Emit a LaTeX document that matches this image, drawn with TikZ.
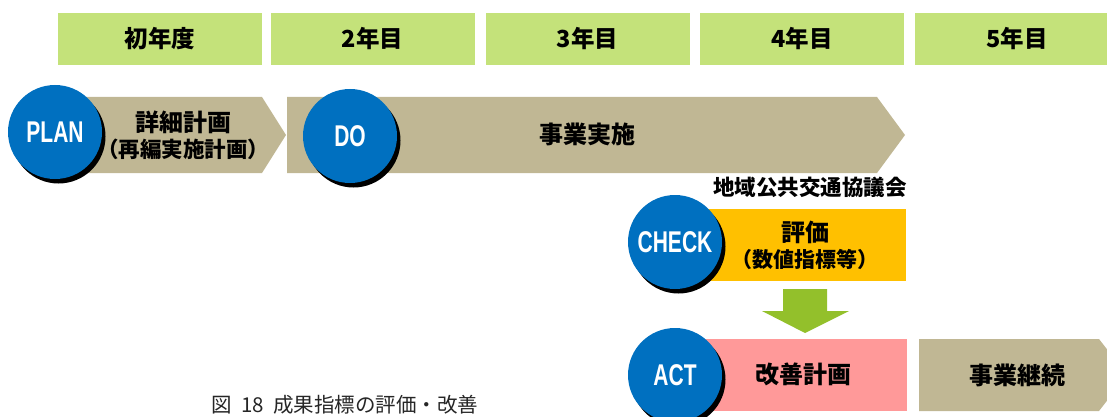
\documentclass[tikz,border=0pt]{standalone}
\usepackage{fontspec}
\setmainfont{Noto Sans CJK JP}
\newfontfamily\circfont{Liberation Sans}[FakeStretch=0.7]
\usetikzlibrary{shadows,calc}
\newcommand\lparen{\makebox[0.6em][r]{（}}
\newcommand\rparen{\makebox[0.6em][l]{）}}
\definecolor{yeargreen}{HTML}{C4E27A}
\definecolor{phasetan}{HTML}{C0B794}
\definecolor{pdcablue}{HTML}{0070C0}
\definecolor{evalorange}{HTML}{FFC000}
\definecolor{actpink}{HTML}{FF9999}
\definecolor{downgreen}{HTML}{93C02B}
\tikzset{
  yearbox/.style={fill=yeargreen, minimum width=204, minimum height=52, inner sep=0,
    font=\fontsize{23.5}{26}\selectfont\bfseries},
  pdca/.style={circle, fill=pdcablue, minimum size=94, inner sep=0, text=white,
    font=\circfont\fontsize{30}{30}\selectfont\bfseries,
    drop shadow={shadow xshift=3.5pt, shadow yshift=-4.5pt, fill=black, opacity=1}},
  jptext/.style={align=center, inner sep=0, font=\fontsize{24}{26}\selectfont\bfseries}
}
\begin{document}
\begin{tikzpicture}[x=1pt,y=-1pt]
    \useasboundingbox (0,0) rectangle (1107,417);
    \clip (0,0) rectangle (1107,417);
    \node[yearbox] (y1) at (160,39) {初年度};
    \node[yearbox] (y2) at (372.5,39) {2年目};
    \node[yearbox] (y3) at (587.5,39) {3年目};
    \node[yearbox] (y4) at (802,39) {4年目};
    \node[yearbox] (y5) at (1017,39) {5年目};
    \fill[phasetan] (60,97) -- (262,97) -- (286,135) -- (262,173) -- (60,173) -- cycle;
    \fill[phasetan] (287,97) -- (877,97) -- (905,135) -- (877,173) -- (287,173) -- cycle;
    \fill[evalorange] (700,209) rectangle (906,281);
    \fill[actpink] (700,339) rectangle (907,411);
    \fill[phasetan] (919,339) -- (1099,339) -- (1127,375) -- (1099,411) -- (919,411) -- cycle;
    \node[jptext] (plantext) at (183,135) {詳細計画\\{\fontsize{21.5}{26}\selectfont\lparen 再編実施計画\rparen}};
    \node[jptext] (dotext) at (587,134) {事業実施};
    \node[jptext, font=\fontsize{21.5}{25}\selectfont\bfseries] (council) at (810,187) {地域公共交通協議会};
    \node[jptext] (evaltext) at (805,245) {評価\\{\fontsize{21}{26}\selectfont\lparen 数値指標等\rparen}};
    \node[jptext] (acttext) at (803,374) {改善計画};
    \node[jptext] (conttext) at (1017,375) {事業継続};
    \node[pdca] (plan) at (55,132) {PLAN};
    \node[pdca] (do) at (350,136) {DO};
    \node[pdca] (check) at (675,242) {CHECK};
    \node[pdca] (act) at (675,375) {ACT};
    \coordinate (arrtop) at (805,289);
    \coordinate (arrtip) at (805,333);
    \fill[downgreen] ($(arrtop)+(-22,0)$) -- ($(arrtop)+(22,0)$) -- ($(arrtop)+(22,22)$)
      -- ($(arrtop)+(44,22)$) -- (arrtip) -- ($(arrtop)+(-43,22)$) -- ($(arrtop)+(-22,22)$) -- cycle;
    \node[inner sep=0, text=black!85, font=\fontsize{20.5}{24}\selectfont] (caption) at (345,405) {図\ \ 18\ \ 成果指標の評価・改善};
\end{tikzpicture}
\end{document}
